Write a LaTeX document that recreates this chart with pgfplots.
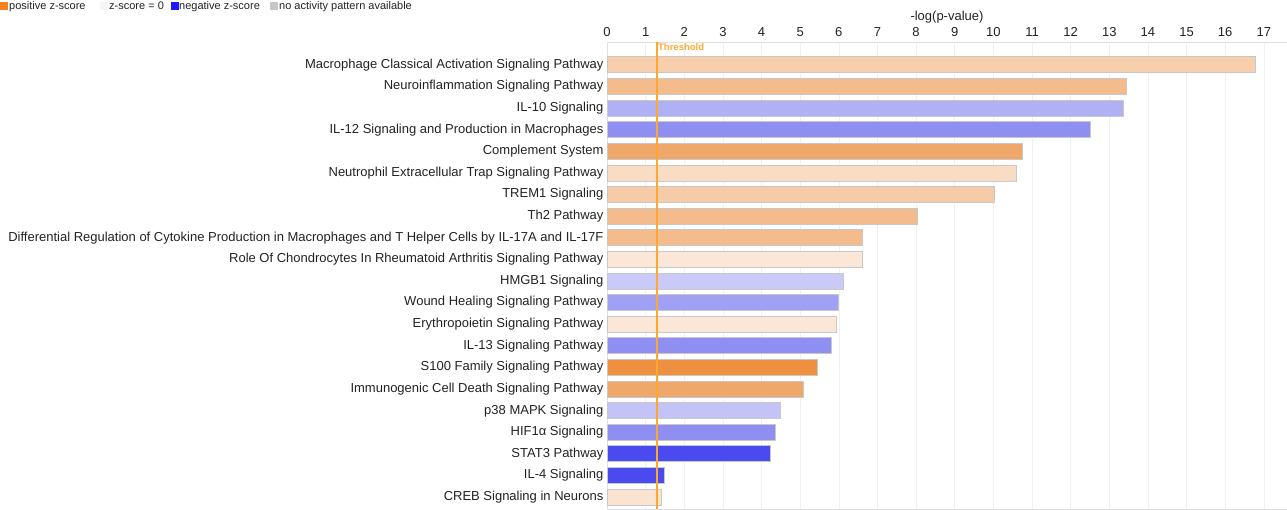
\documentclass[border=0pt]{standalone}
\usepackage{pgfplots}
\pgfplotsset{compat=1.18}
\usepackage{fontspec}
\setmainfont{Liberation Sans}
\definecolor{cA}{HTML}{F8CFAC}
\definecolor{cB}{HTML}{F4BB8C}
\definecolor{cC}{HTML}{B0B0F5}
\definecolor{cD}{HTML}{8F8FF2}
\definecolor{cE}{HTML}{F0A76A}
\definecolor{cF}{HTML}{F8DCC4}
\definecolor{cG}{HTML}{F6CCA8}
\definecolor{cH}{HTML}{FBE7D8}
\definecolor{cI}{HTML}{CACAF8}
\definecolor{cJ}{HTML}{A0A0F5}
\definecolor{cK}{HTML}{EF9040}
\definecolor{cL}{HTML}{C3C3F8}
\definecolor{cM}{HTML}{4A4AEE}
\definecolor{cN}{HTML}{FBE3D2}
\definecolor{border}{HTML}{C8C8C8}
\definecolor{thrline}{HTML}{FFA830}
\definecolor{txt}{HTML}{222222}
\definecolor{legpos}{HTML}{F5821F}
\definecolor{legneg}{HTML}{1A1AFF}
\begin{document}
\begin{tikzpicture}[x=1pt,y=1pt]
\begin{axis}[
  at={(0,0)}, anchor=south west,
  width=680pt, height=467pt, scale only axis,
  xmin=0, xmax=17.6,
  ymin=-1.06, ymax=20.55, y dir=reverse,
  axis line style={draw=black!12},
  xtick={0,...,17}, xticklabel pos=right,
  xlabel={-log(p-value)}, xlabel style={font=\fontsize{13}{15}\selectfont, color=txt, yshift=-3pt},
  xticklabel style={font=\fontsize{13}{15}\selectfont, color=txt, yshift=2pt},
  /pgf/number format/assume math mode=true,
  major tick length=0pt,
  xmajorgrids, grid style={draw=black!6, line width=0.6pt},
  ytick={0,...,20},
  yticklabels={Macrophage Classical Activation Signaling Pathway,
    Neuroinflammation Signaling Pathway,
    IL-10 Signaling,
    IL-12 Signaling and Production in Macrophages,
    Complement System,
    Neutrophil Extracellular Trap Signaling Pathway,
    TREM1 Signaling,
    Th2 Pathway,
    Differential Regulation of Cytokine Production in Macrophages and T Helper Cells by IL-17A and IL-17F,
    Role Of Chondrocytes In Rheumatoid Arthritis Signaling Pathway,
    HMGB1 Signaling,
    Wound Healing Signaling Pathway,
    Erythropoietin Signaling Pathway,
    IL-13 Signaling Pathway,
    S100 Family Signaling Pathway,
    Immunogenic Cell Death Signaling Pathway,
    p38 MAPK Signaling,
    HIF1α Signaling,
    STAT3 Pathway,
    IL-4 Signaling,
    CREB Signaling in Neurons},
  yticklabel style={font=\fontsize{13}{15}\selectfont, color=txt},
  bars/.style={xbar, bar width=16pt, bar shift=0pt, draw=border, line width=0.9pt},
]
\addplot[bars, fill=cA] coordinates {(16.79,0)};
\addplot[bars, fill=cB] coordinates {(13.44,1)};
\addplot[bars, fill=cC] coordinates {(13.36,2)};
\addplot[bars, fill=cD] coordinates {(12.51,3)};
\addplot[bars, fill=cE] coordinates {(10.75,4)};
\addplot[bars, fill=cF] coordinates {(10.61,5)};
\addplot[bars, fill=cG] coordinates {(10.03,6)};
\addplot[bars, fill=cB] coordinates {(8.03,7)};
\addplot[bars, fill=cB] coordinates {(6.62,8)};
\addplot[bars, fill=cH] coordinates {(6.60,9)};
\addplot[bars, fill=cI] coordinates {(6.11,10)};
\addplot[bars, fill=cJ] coordinates {(5.99,11)};
\addplot[bars, fill=cH] coordinates {(5.93,12)};
\addplot[bars, fill=cD] coordinates {(5.82,13)};
\addplot[bars, fill=cK] coordinates {(5.45,14)};
\addplot[bars, fill=cE] coordinates {(5.08,15)};
\addplot[bars, fill=cL] coordinates {(4.48,16)};
\addplot[bars, fill=cD] coordinates {(4.37,17)};
\addplot[bars, fill=cM] coordinates {(4.23,18)};
\addplot[bars, fill=cM] coordinates {(1.50,19)};
\addplot[bars, fill=cN] coordinates {(1.42,20)};
\addplot[sharp plot, no markers, draw=thrline, line width=1.5pt, forget plot] coordinates {(1.3,-1.06) (1.3,20.55)};
\node[anchor=north west, inner sep=0pt, font=\fontsize{9.5}{11}\selectfont\bfseries, text=thrline] at (axis cs:1.32,-1.06) [yshift=-1.5pt] {Threshold};
\end{axis}
% legend
\begin{scope}[font=\fontsize{11}{13}\selectfont, text=txt]
\fill[legpos] (-607,499) rectangle (-599,507);
\node[anchor=base west, inner sep=0pt] at (-598,499.5) {positive z-score};
\fill[black!4] (-507,499) rectangle (-499,507);
\node[anchor=base west, inner sep=0pt] at (-498,499.5) {z-score = 0};
\fill[legneg] (-436,499) rectangle (-428,507);
\node[anchor=base west, inner sep=0pt] at (-428,499.5) {negative z-score};
\fill[black!22] (-337,499) rectangle (-329,507);
\node[anchor=base west, inner sep=0pt] at (-328,499.5) {no activity pattern available};
\end{scope}
\pgfresetboundingbox
\useasboundingbox (-607,0) rectangle (680,509);
\end{tikzpicture}
\end{document}
